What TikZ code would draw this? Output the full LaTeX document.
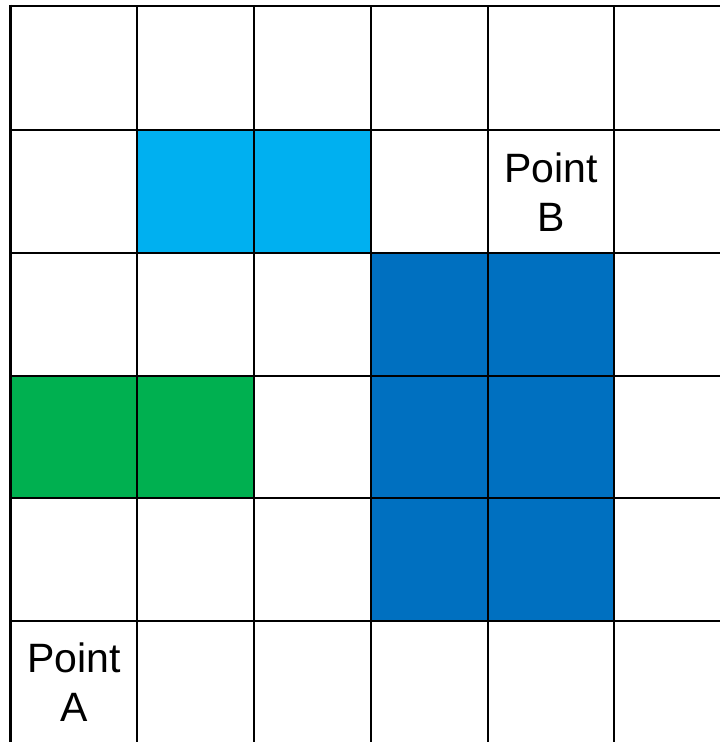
\documentclass[tikz,border=0pt]{standalone}
\usepackage{fontspec}
\setmainfont{Liberation Sans}
\usepackage{xcolor}
\usepackage{tikz}
\usetikzlibrary{positioning}
\definecolor{cellsky}{HTML}{00B0F0}
\definecolor{cellblue}{HTML}{0070C0}
\definecolor{cellgreen}{HTML}{00B050}

\begin{document}
\begin{tikzpicture}[x=1pt,y=-1pt,
  gridline/.style={draw=black,line width=2pt},
  border/.style={draw=black,line width=3pt},
  lbl/.style={align=center,inner sep=0pt,
              font=\fontsize{41}{49}\selectfont}]
  \useasboundingbox (0,0) rectangle (720,742);
  \fill[white] (0,0) rectangle (720,742);
  \fill[cellsky] (137,130) rectangle (371,253);
  \fill[cellblue] (371,253) rectangle (614,621);
  \fill[cellgreen] (10.5,376) rectangle (254,498);
  \foreach \gx in {137,254,371,488,614}
    \draw[gridline] (\gx,6) -- (\gx,742);
  \foreach \gy in {130,253,376,498,621}
    \draw[gridline] (10.5,\gy) -- (720,\gy);
  \draw[border,line width=2.6pt] (9,6) -- (720,6);
  \draw[border,line width=3.5pt] (10.5,4.7) -- (10.5,742);
  \node[lbl] (pta) at (74,682) {Point\\A};
  \node[lbl] (ptb) at (551,192) {Point\\B};
\end{tikzpicture}
\end{document}
